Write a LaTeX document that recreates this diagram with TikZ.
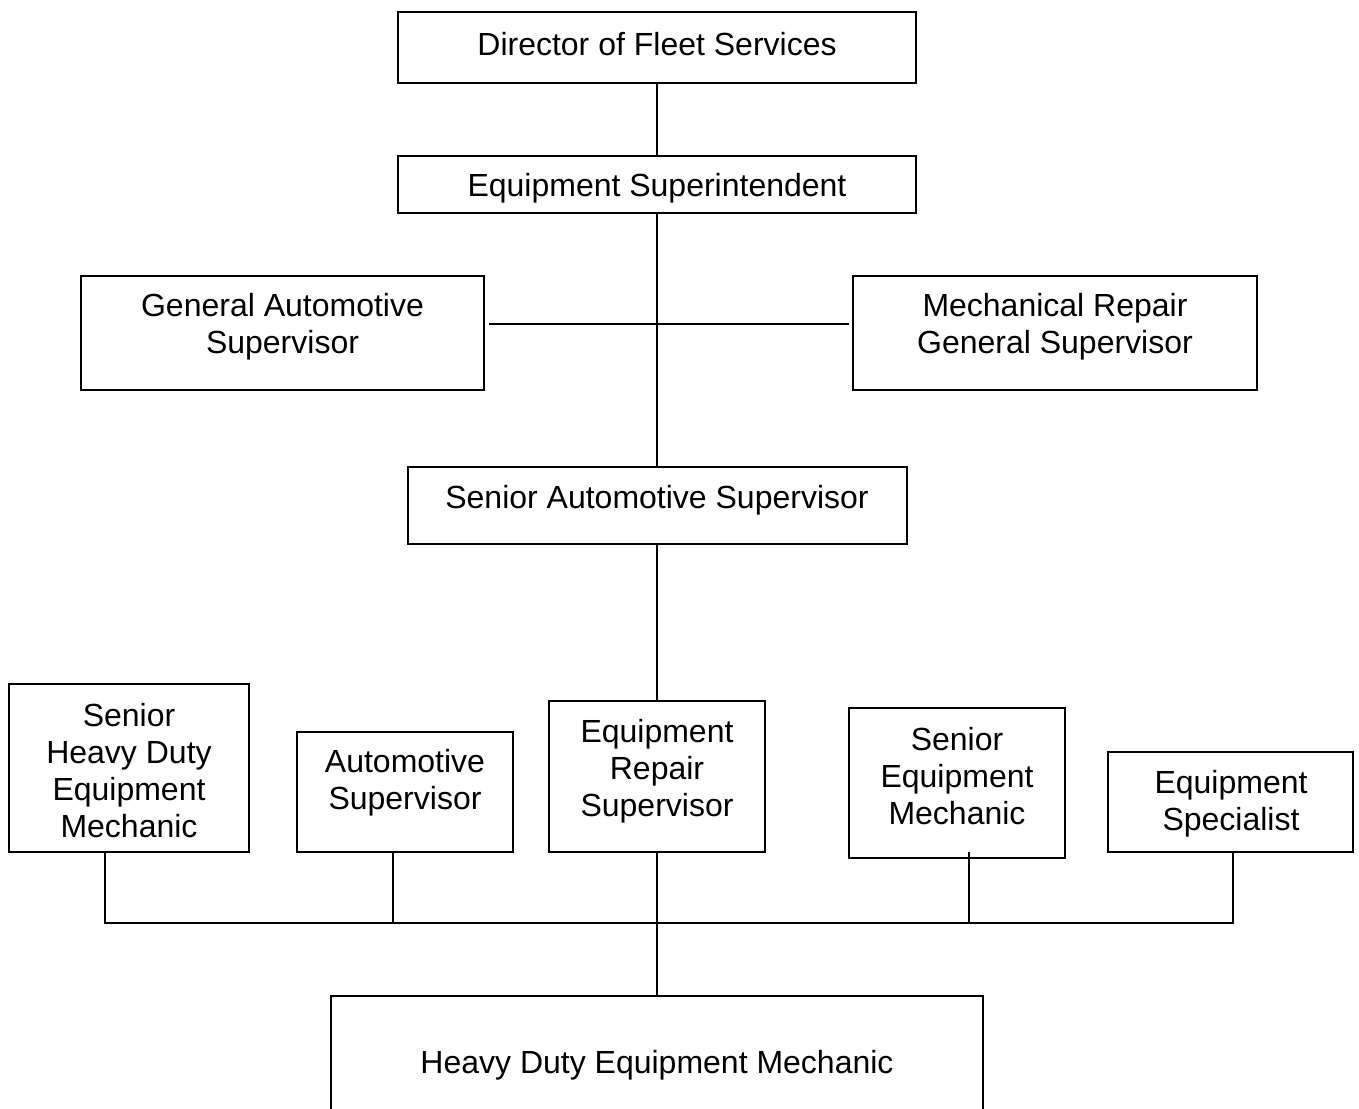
\documentclass[tikz,border=0pt]{standalone}
\usepackage{fontspec}
\setmainfont{Liberation Sans}
\begin{document}
\begin{tikzpicture}[x=0.75pt,y=-0.75pt,
  box/.style={draw,line width=1.5pt,inner sep=0pt,rectangle},
  lbl/.style={align=center,inner sep=0pt,font=\fontsize{24}{27.75}\selectfont},
  conn/.style={line width=1.5pt}]
\clip (0,0) rectangle (1359,1108);
\fill[white] (0,0) rectangle (1359,1108);
% boxes
\node[box,minimum width=518*0.75pt,minimum height=71*0.75pt] (dir) at (657,47.5) {};
\node[box,minimum width=518*0.75pt,minimum height=57*0.75pt] (es) at (657,184.5) {};
\node[box,minimum width=403*0.75pt,minimum height=114*0.75pt] (gas) at (282.5,333) {};
\node[box,minimum width=404*0.75pt,minimum height=114*0.75pt] (mrg) at (1055,333) {};
\node[box,minimum width=499*0.75pt,minimum height=77*0.75pt] (sas) at (657,505.5) {};
\node[box,minimum width=240*0.75pt,minimum height=168*0.75pt] (shd) at (129,768) {};
\node[box,minimum width=216*0.75pt,minimum height=120*0.75pt] (as) at (405,792) {};
\node[box,minimum width=216*0.75pt,minimum height=151*0.75pt] (ers) at (657,776.5) {};
\node[box,minimum width=216*0.75pt,minimum height=150*0.75pt] (sem) at (957,783) {};
\node[box,minimum width=245*0.75pt,minimum height=100*0.75pt] (spec) at (1230.5,802) {};
\node[box,minimum width=652*0.75pt,minimum height=144*0.75pt] (hdm) at (657,1068) {};
% labels
\node[lbl] (tdir) at (657,44) {Director of Fleet Services};
\node[lbl] (tes) at (657,188) {Equipment Superintendent};
\node[lbl] (tgas) at (282.5,326.5) {General Automotive\\Supervisor};
\node[lbl] (tmrg) at (1055,326.5) {Mechanical Repair\\General Supervisor};
\node[lbl] (tsas) at (657,500) {Senior Automotive Supervisor};
\node[lbl] (tshd) at (129,770.5) {Senior\\Heavy Duty\\Equipment\\Mechanic};
\node[lbl] (tas) at (405,782.5) {Automotive\\Supervisor};
\node[lbl] (ters) at (657,771) {Equipment\\Repair\\Supervisor};
\node[lbl] (tsem) at (957,776) {Senior\\Equipment\\Mechanic};
\node[lbl] (tspec) at (1231,803.5) {Equipment\\Specialist};
\node[lbl] (thdm) at (657,1065) {Heavy Duty Equipment Mechanic};
% coordinates
\coordinate (hl) at (489,324);
\coordinate (hr) at (849,324);
\coordinate (d1) at (105,852);
\coordinate (d2) at (393,852);
\coordinate (d4) at (969,852);
\coordinate (d5) at (1233,852);
\coordinate (b1) at (105,923);
\coordinate (b2) at (393,923);
\coordinate (b3) at (657,923);
\coordinate (b4) at (969,923);
\coordinate (b5) at (1233,923);
% connectors
\draw[conn] (dir.south) -- (es.north);
\draw[conn] (es.south) -- (sas.north);
\draw[conn] (hl) -- (hr);
\draw[conn] (sas.south) -- (ers.north);
\draw[conn] (d1) -- (b1) -- (b5) -- (d5);
\draw[conn] (d2) -- (b2);
\draw[conn] (d4) -- (b4);
\draw[conn] (ers.south) -- (hdm.north);
\end{tikzpicture}
\end{document}
